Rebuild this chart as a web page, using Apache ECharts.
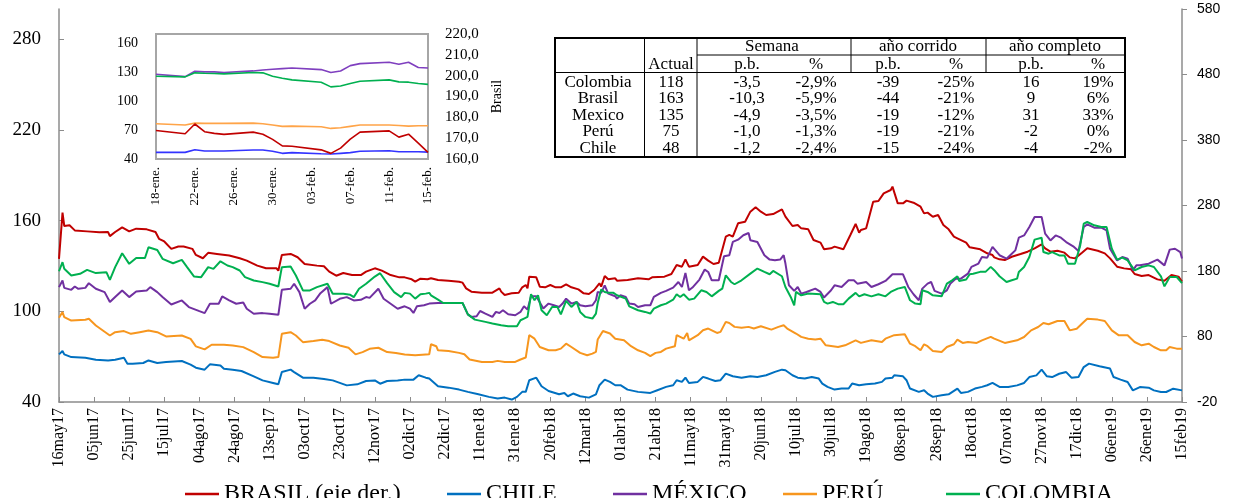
<!DOCTYPE html>
<html><head><meta charset="utf-8">
<script src="https://cdn.jsdelivr.net/npm/echarts/dist/echarts.min.js"></script>
<style>html,body{margin:0;padding:0;background:#fff}#c{width:1236px;height:498px}</style>
</head><body><div id="c"></div>
<script>
// ---------- main chart: x = days since 16may17 ----------
const xTickLabels = ['16may17','05jun17','25jun17','15jul17','04ago17','24ago17','13sep17','03oct17','23oct17','12nov17','02dic17','22dic17','11ene18','31ene18','20feb18','12mar18','01abr18','21abr18','11may18','31may18','20jun18','10jul18','30jul18','19ago18','08sep18','28sep18','18oct18','07nov18','27nov18','17dic18','06ene19','26ene19','15feb19'];
const seriesNames = ['BRASIL (eje der.)','CHILE','MÉXICO','PERÚ','COLOMBIA'];

const brasil = [[0,198.5],[2,269.2],[3,248.7],[6,249.7],[9,242.0],[16,240.5],[23,239.0],[28,239.5],[29,233.3],[32,239.5],[36,246.7],[40,240.5],[44,244.6],[50,243.6],[51,245.6],[55,239.5],[57,229.2],[60,225.1],[64,213.8],[68,217.4],[71,217.4],[76,213.8],[78,204.6],[82,199.5],[85,207.7],[90,206.1],[97,203.6],[103,199.5],[107,195.9],[113,188.2],[118,184.1],[124,184.1],[125,180.5],[127,204.6],[132,206.1],[136,201.0],[140,190.8],[147,188.2],[151,187.2],[154,179.0],[158,172.8],[162,176.9],[167,173.8],[172,173.8],[175,179.0],[180,184.1],[184,180.5],[189,173.8],[194,170.3],
[197,170.3],[201,167.3],[203,163.7],[206,168.3],[210,167.3],[212,168.8],[216,166.3],[222,165.2],[228,163.7],[230,162.2],[232,153.5],[235,148.5],[241,146.9],[247,146.9],[251,153.5],[252,148.5],[254,143.4],[258,145.9],[262,146.9],[264,155.1],[266,158.6],[267,153.5],[268,171.4],[272,170.3],[274,156.1],[277,155.1],[280,158.6],[283,155.1],[286,155.1],[289,159.6],[292,155.1],[296,152.0],[299,145.9],[302,144.9],[305,151.0],[308,161.2],[309,156.1],[311,172.4],
[313,167.3],[317,168.8],[318,165.2],[324,166.3],[330,168.8],[336,167.3],[338,170.3],[345,171.4],[349,175.4],[352,189.2],[355,186.6],[357,197.8],[359,186.6],[364,189.2],[367,201.9],[370,195.8],[373,190.7],[376,192.7],[380,232.4],[382,235.0],[384,232.4],[387,252.8],[391,255.3],[394,270.6],[397,277.2],[400,270.6],[403,265.5],[407,267.0],[412,274.1],[414,263.0],[418,248.7],
[421,250.2],[423,245.1],[427,243.6],[430,227.3],[434,223.3],[436,213.1],[440,214.6],[442,217.2],[447,213.1],[451,235.0],[454,251.8],[456,238.5],[457,242.6],[460,245.1],[464,285.9],[467,286.9],[470,298.6],[474,303.7],[475,308.8],[478,283.3],[481,283.3],[483,287.4],[487,284.3],[491,278.2],[493,268.0],[495,269.1],[498,262.9],[501,265.5],[504,250.2],[507,243.6],[510,232.4],[512,229.9],[513,227.3],[517,223.3],[519,216.1],[522,214.6],[525,213.1],[529,207.0],[532,204.4],[533,200.9],[536,197.8],
[539,196.8],[543,201.8],[548,205.9],[552,209.5],[556,214.6],[560,220.7],[562,214.6],[565,209.5],[569,211.0],[573,208.0],[576,200.8],[579,199.3],[583,208.0],[586,214.6],[592,211.0],[596,206.9],[599,199.3],[603,186.6],[607,184.0],[611,182.5],[613,175.4],[617,172.3],[621,173.8],[626,167.2],[630,165.2],[634,173.8],[638,171.3],[640,163.7]];

const chile = [[0,71.5],[2,73.7],[3,71.5],[7,69.7],[15,69.3],[21,68.0],[28,67.5],[29,66.4],[32,68.0],[37,69.3],[39,65.3],[42,65.3],[48,65.8],[51,67.5],[56,65.8],[61,66.4],[70,67.1],[75,64.7],[78,62.7],[83,61.4],[86,64.9],[92,64.2],[94,62.0],[99,61.4],[104,60.5],[111,57.0],[116,54.3],[122,52.6],[125,51.7],[127,59.8],[132,61.4],[134,59.8],[139,56.1],[145,56.1],[151,55.2],[156,54.3],[164,51.0],[170,51.7],[175,53.9],[180,54.3],[183,52.1],[187,53.9],[193,54.3],
[197,54.8],[202,54.8],[205,57.7],[209,56.1],[211,55.5],[216,50.4],[222,49.5],[228,48.2],[233,46.7],[239,45.1],[245,43.4],[250,42.3],[254,42.9],[258,41.6],[261,43.4],[264,46.7],[266,46.7],[268,54.4],[272,56.1],[275,50.4],[279,47.3],[285,45.1],[288,46.0],[290,43.8],[293,45.6],[297,43.8],[302,42.9],[306,45.1],[308,51.1],[311,54.8],
[314,53.3],[317,51.1],[320,51.1],[324,48.2],[330,46.7],[337,46.0],[341,47.8],[346,50.0],[350,51.1],[352,54.4],[355,53.3],[357,56.1],[359,52.6],[364,53.3],[367,56.6],[370,55.5],[374,53.9],[377,54.4],[380,58.8],[384,57.0],[389,56.1],[394,57.0],[398,56.6],[403,57.7],[408,59.9],[412,61.4],[414,61.0],[418,57.7],
[421,56.1],[425,55.5],[429,56.6],[433,55.5],[435,52.2],[438,50.0],[442,48.2],[446,48.9],[450,48.9],[452,52.2],[456,51.1],[460,51.7],[465,52.2],[469,53.3],[471,55.5],[475,56.1],[476,57.7],[481,57.0],[483,54.4],[485,48.9],[490,46.7],[493,47.8],[495,45.6],[498,43.4],[503,44.5],[507,45.1],[512,48.9],[514,46.0],[518,46.7],[522,48.9],[526,50.0],[529,51.1],[532,52.6],[536,50.0],
[541,49.9],[546,51.0],[550,52.6],[553,56.5],[557,57.6],[560,61.4],[563,57.0],[566,56.5],[570,58.7],[574,59.8],[577,56.1],[581,56.5],[584,63.1],[587,65.4],[593,63.6],[599,62.1],[601,56.5],[605,54.8],[609,53.2],[612,47.7],[616,49.9],[621,49.5],[624,47.7],[628,46.6],[631,46.6],[635,48.8],[640,47.7]];

const mexico = [[0,116.0],[2,120.4],[3,115.5],[7,114.2],[9,116.4],[11,114.9],[15,115.5],[17,118.6],[21,114.9],[26,112.7],[29,106.1],[32,109.4],[36,113.8],[40,109.4],[44,113.1],[50,113.8],[52,116.0],[56,112.7],[59,109.4],[64,104.5],[70,107.2],[74,102.8],[80,100.1],[83,98.8],[86,105.0],[91,105.0],[93,109.8],[97,107.2],[101,105.0],[105,105.8],[107,101.7],[111,98.4],[116,98.8],[120,98.4],[125,97.7],[127,114.2],[132,114.9],[134,118.2],[137,112.7],[140,101.7],[143,105.0],[146,107.2],[149,112.0],[153,116.0],[155,105.0],[160,108.3],[164,109.4],[168,107.2],[172,107.6],[175,109.4],[177,108.9],[182,114.9],[185,108.3],[189,105.0],[193,101.7],
[197,103.3],[200,101.8],[202,98.9],[204,103.3],[208,104.0],[211,105.1],[216,105.5],[222,105.5],[230,105.5],[233,98.0],[235,96.3],[238,96.7],[240,100.2],[243,98.5],[247,96.3],[249,99.6],[251,98.9],[253,100.7],[256,98.0],[260,97.4],[263,99.6],[265,103.3],[267,101.1],[269,109.9],[272,109.9],[276,101.8],[279,105.1],[282,104.0],[285,102.9],[287,105.1],[289,108.4],[292,105.1],[295,106.2],[297,104.0],[300,103.3],[304,104.0],[306,107.3],[307,112.8],[309,112.2],[311,117.2],
[313,111.7],[317,110.0],[318,108.4],[320,110.6],[323,109.5],[325,105.1],[328,104.7],[330,102.9],[334,104.0],[337,104.0],[339,109.5],[343,112.2],[346,113.5],[350,115.7],[353,119.4],[355,116.1],[357,125.4],[359,113.9],[361,115.7],[365,121.0],[368,127.6],[370,126.0],[372,120.5],[376,120.5],[379,136.4],[382,137.1],[384,145.9],[387,147.4],[390,150.3],[393,151.8],[394,147.0],[398,145.9],[402,137.1],[405,134.2],[408,133.8],[411,134.2],[413,137.1],[414,131.6],[416,117.2],[419,113.5],
[421,116.1],[423,111.7],[426,112.8],[431,115.0],[434,112.8],[436,109.1],[440,113.9],[442,117.2],[446,116.1],[450,120.5],[453,120.5],[455,118.3],[460,119.4],[463,116.1],[467,117.9],[471,120.1],[475,124.5],[476,123.8],[481,124.5],[484,116.1],[487,111.3],[490,107.3],[492,115.0],[495,118.3],[497,119.4],[499,113.5],[503,111.7],[506,113.9],[508,118.3],[511,121.6],[514,121.6],[518,124.9],[520,129.4],[524,131.6],[526,136.0],[529,135.5],[532,142.6],[533,143.0],[536,137.1],
[540,134.8],[543,138.1],[545,140.3],[547,148.7],[550,150.2],[553,155.8],[556,162.4],[560,162.4],[562,151.4],[565,146.9],[568,150.2],[571,148.7],[574,145.8],[578,143.0],[581,139.9],[584,155.8],[586,157.5],[590,155.3],[594,155.3],[597,153.6],[599,141.4],[603,133.7],[606,135.9],[609,134.8],[612,127.1],[614,130.4],[616,130.4],[621,131.5],[626,134.2],[630,130.4],[633,140.8],[636,141.4],[639,139.2],[640,135.0]];

const peru = [[0,95.7],[2,99.5],[3,96.2],[7,93.9],[15,94.4],[17,95.1],[21,90.6],[29,84.0],[32,86.2],[37,86.9],[41,85.1],[46,86.2],[51,87.3],[56,86.2],[61,83.4],[70,84.0],[75,81.8],[78,76.8],[83,74.8],[87,77.9],[94,77.9],[99,77.4],[105,76.3],[111,73.0],[116,69.7],[122,69.3],[125,69.7],[127,85.1],[132,86.2],[135,84.0],[139,79.6],[145,80.3],[150,81.2],[154,80.3],[160,77.4],[165,75.9],[169,71.5],[173,73.0],[177,75.2],[182,75.9],[187,73.0],[192,72.4],
[197,71.4],[203,70.9],[211,71.6],[212,78.2],[215,76.9],[216,74.2],[222,73.8],[228,72.5],[231,71.6],[234,68.1],[241,66.5],[247,66.5],[250,67.2],[254,66.5],[260,66.5],[263,68.1],[266,69.4],[268,84.2],[271,81.9],[274,76.4],[279,74.2],[283,74.2],[286,75.3],[289,78.6],[292,76.4],[297,72.5],[301,70.9],[304,72.0],[306,73.1],[307,81.3],[310,87.0],
[314,85.3],[317,81.9],[322,80.8],[326,76.9],[330,74.2],[334,72.5],[337,70.3],[340,72.5],[343,73.1],[346,75.3],[351,76.9],[352,84.2],[356,81.9],[358,85.7],[359,80.8],[364,84.2],[367,87.5],[370,88.6],[375,85.7],[377,86.4],[380,93.0],[382,92.3],[385,89.7],[389,89.2],[393,89.7],[396,88.6],[400,90.1],[406,87.9],[410,89.7],[413,90.8],[415,88.6],[420,85.3],
[423,83.1],[427,81.9],[431,81.3],[434,81.9],[437,77.5],[444,76.4],[448,77.5],[454,80.8],[457,79.1],[463,80.8],[469,79.7],[471,81.9],[476,84.2],[482,84.8],[485,78.6],[488,76.9],[491,74.2],[493,78.2],[495,76.9],[498,73.8],[503,73.1],[506,76.4],[510,78.2],[512,81.3],[515,79.1],[518,79.7],[523,79.1],[526,80.8],[531,83.1],[533,81.9],[539,79.1],
[540,78.6],[546,80.8],[550,83.0],[554,87.4],[558,89.6],[561,92.3],[564,91.4],[569,93.6],[573,93.6],[576,87.4],[580,88.5],[584,92.9],[586,95.1],[592,94.5],[596,93.6],[600,87.4],[604,84.1],[609,84.1],[613,79.7],[617,77.5],[621,78.6],[624,76.4],[628,74.2],[631,74.2],[633,76.4],[637,75.3],[640,75.3]];

const colombia = [[0,126.5],[2,132.5],[3,128.1],[7,123.7],[12,124.8],[16,127.4],[21,125.3],[27,125.9],[29,120.8],[32,129.2],[36,138.4],[40,131.4],[44,135.3],[49,135.3],[51,142.4],[56,140.6],[59,134.7],[65,131.8],[70,134.0],[73,129.2],[77,123.0],[81,122.6],[85,129.2],[88,128.1],[92,133.1],[96,130.3],[99,129.2],[103,127.0],[106,122.6],[111,120.4],[116,119.3],[120,118.2],[125,116.4],[127,129.2],[132,129.6],[135,123.7],[139,113.8],[143,113.8],[147,116.0],[153,118.2],[156,111.6],[162,111.6],[166,110.9],[168,109.4],[171,114.9],[175,118.2],[180,123.0],[183,125.2],[187,118.6],[191,112.7],[195,109.4],
[197,112.2],[200,111.7],[203,108.4],[206,111.3],[209,111.7],[211,112.2],[212,110.6],[216,107.7],[219,105.5],[222,105.5],[230,105.5],[233,98.0],[237,94.5],[243,93.0],[247,91.9],[252,90.8],[256,90.1],[261,90.1],[263,94.1],[265,95.2],[267,96.3],[269,111.3],[271,107.3],[273,110.6],[275,100.7],[278,97.4],[281,102.9],[284,102.9],[286,98.0],[289,106.9],[292,102.9],[295,106.2],[297,99.6],[300,96.3],[304,95.2],[306,98.5],[307,105.5],[309,114.4],[311,112.8],
[313,112.2],[316,112.2],[318,110.6],[323,108.4],[325,103.3],[330,100.7],[334,99.6],[337,98.5],[339,101.8],[343,104.0],[346,105.1],[350,107.7],[352,111.3],[354,109.5],[356,111.3],[359,107.7],[362,108.4],[366,113.9],[369,112.8],[372,109.9],[376,113.5],[378,115.0],[380,123.8],[383,119.4],[385,117.9],[389,120.5],[394,124.9],[398,128.3],[402,126.1],[405,124.5],[407,126.7],[412,123.2],[414,116.1],[417,109.5],[419,104.0],
[420,112.8],[423,110.6],[427,111.7],[434,111.3],[436,106.2],[438,105.1],[441,106.2],[444,104.7],[447,104.7],[450,108.4],[454,112.2],[456,109.9],[459,111.3],[463,109.9],[467,111.3],[471,109.9],[474,112.8],[478,115.0],[482,116.1],[485,107.3],[488,105.1],[491,104.7],[492,113.9],[495,112.8],[498,110.6],[503,109.9],[506,118.3],[509,120.5],[512,123.2],[513,120.1],[517,121.0],[519,124.5],[521,124.9],[525,126.1],[528,126.1],[531,129.4],[533,127.2],[536,123.2],
[540,119.4],[543,120.5],[546,121.6],[547,126.0],[550,129.3],[553,135.9],[556,147.4],[560,148.7],[561,139.2],[564,138.1],[566,139.2],[570,137.0],[573,137.0],[575,131.5],[579,131.5],[582,143.6],[584,158.0],[586,159.1],[590,156.9],[594,155.8],[597,155.8],[600,141.4],[603,134.2],[606,135.5],[609,133.7],[613,127.1],[617,129.3],[621,130.4],[624,129.3],[628,123.1],[630,116.5],[633,122.7],[637,122.7],[640,118.7]];

// ---------- inset: days since 18-ene ----------
const insetTickLabels = ['18-ene.','22-ene.','26-ene.','30-ene.','03-feb.','07-feb.','11-feb.','15-feb.'];
const insetDays = [0,3,4,5,6,7,10,11,12,13,14,17,18,19,20,21,24,25,26,27,28];
const insetMexico = [128.1,125.7,131.3,130.6,130.6,129.9,131.6,132.6,133.3,134.0,134.7,133.0,129.9,131.6,137.1,139.2,140.6,138.5,140.6,135.1,134.6];
const insetColombia = [126.1,125.4,129.6,129.2,128.9,128.5,129.9,129.6,126.1,124.0,122.3,119.9,115.0,116.0,118.5,120.9,122.3,120.2,119.9,118.5,117.6];
const insetPeru = [76.6,75.3,77.3,77.0,77.0,77.0,77.3,76.6,75.3,73.9,74.2,73.5,71.8,72.5,73.9,75.3,75.3,74.9,74.2,74.6,74.6];
const insetChile = [46.9,46.9,49.7,48.3,48.3,48.3,49.3,49.3,48.0,45.9,46.6,45.5,45.2,45.9,46.6,48.0,48.6,47.6,47.6,47.6,47.2];
const insetBrasil = [173.7,172.1,176.8,173.1,172.3,171.8,172.9,171.9,169.4,166.3,166.1,164.4,162.7,165.2,169.5,172.9,173.5,170.5,171.9,167.6,163.2];

// ---------- table ----------
const tableGroups = ['Semana','año corrido','año completo'];
const tableSubHeaders = ['Actual','p.b.','%','p.b.','%','p.b.','%'];
const tableCountries = ['Colombia','Brasil','Mexico','Perú','Chile'];
const tableActual = ['118','163','135','75','48'];
const semanaPb = ['-3,5','-10,3','-4,9','-1,0','-1,2'];
const semanaPct = ['-2,9%','-5,9%','-3,5%','-1,3%','-2,4%'];
const corridoPb = ['-39','-44','-19','-19','-15'];
const corridoPct = ['-25%','-21%','-12%','-21%','-24%'];
const completoPb = ['16','9','31','-2','-4'];
const completoPct = ['19%','6%','33%','0%','-2%'];

const SERIF = '"Liberation Serif","Times New Roman",serif';
const SANS = '"Liberation Sans",Arial,sans-serif';
const colors = ['#C00000','#0070C0','#7030A0','#F7961E','#00B050'];
const mainData = [brasil, chile, mexico, peru, colombia];

const chart = echarts.init(document.getElementById('c'), null, {renderer:'canvas'});

// table graphic
const colX = [598, 671, 747, 816, 888, 956, 1031, 1098];
const rowY = [82.5, 99, 115.5, 132, 148.5];
const T = 38, B = 157, L = 555, R = 1125;
const g = [];
g.push({type:'rect', shape:{x:L, y:T, width:R-L, height:B-T}, style:{fill:'#fff', stroke:'#000', lineWidth:2}, z:10});
const ln = (x1,y1,x2,y2,w)=>g.push({type:'line', shape:{x1,y1,x2,y2}, style:{stroke:'#000', lineWidth:w||1}, z:11});
ln(644.5,T,644.5,B); ln(697,T,697,B); ln(851,T,851,72); ln(986,T,986,72);
ln(697,55,R,55); ln(L,72.5,R,72.5);
const tx = (text,x,y)=>g.push({type:'text', z:12, style:{text, x, y, font:'17px '+SERIF, fill:'#000', textAlign:'center', textVerticalAlign:'middle', align:'center', verticalAlign:'middle'}});
const groupX = [772, 918, 1055];
tableGroups.forEach((t,i)=>tx(t, groupX[i], 47));
tableSubHeaders.forEach((t,i)=>tx(t, colX[i+1], 64.5));
const cols = [tableCountries, tableActual, semanaPb, semanaPct, corridoPb, corridoPct, completoPb, completoPct];
cols.forEach((col,ci)=>col.forEach((t,ri)=>tx(t, colX[ci], rowY[ri])));

const legendLeft = [180, 442, 608, 778, 941];

const option = {
  animation:false,
  backgroundColor:'#fff',
  grid:[
    {left:59, top:9, right:54, bottom:96, containLabel:false},
    {left:156, top:34, width:272, height:125, show:true, backgroundColor:'#fff', borderColor:'#a6a6a6', borderWidth:2, z:5}
  ],
  legend: seriesNames.map((n,i)=>({
    data:[n], left:legendLeft[i], top:477, icon:'rect', itemWidth:34, itemHeight:2.5, selectedMode:false,
    textStyle:{fontFamily:SERIF, fontSize:24, color:'#000'}
  })),
  xAxis:[
    {type:'value', gridIndex:0, min:0, max:640, interval:20,
     axisLine:{show:true, onZero:false, lineStyle:{color:'#8c8c8c', width:1.5}},
     axisTick:{show:true, inside:true, length:5, lineStyle:{color:'#8c8c8c'}},
     splitLine:{show:false},
     axisLabel:{rotate:90, margin:6, fontFamily:SERIF, fontSize:16, color:'#000',
       formatter:v=>xTickLabels[Math.round(v/20)]||''}},
    {type:'value', gridIndex:1, min:0, max:28, interval:4,
     axisLine:{show:false, onZero:false},
     axisTick:{show:true, inside:true, length:4, lineStyle:{color:'#a6a6a6'}},
     splitLine:{show:false},
     axisLabel:{rotate:90, margin:8, fontFamily:SERIF, fontSize:13, color:'#000',
       formatter:v=>insetTickLabels[Math.round(v/4)]||''}}
  ],
  yAxis:[
    {type:'value', gridIndex:0, position:'left', min:40, max:300, interval:60,
     axisLine:{show:true, onZero:false, lineStyle:{color:'#8c8c8c', width:1.5}},
     axisTick:{show:true, inside:true, length:5, lineStyle:{color:'#8c8c8c'}},
     splitLine:{show:false},
     axisLabel:{margin:18, fontFamily:SERIF, fontSize:19, color:'#000', showMaxLabel:false,
       formatter:v=>v>=300?'':String(v)}},
    {type:'value', gridIndex:0, position:'right', min:-20, max:580, interval:100,
     axisLine:{show:true, onZero:false, lineStyle:{color:'#8c8c8c', width:1.5}},
     axisTick:{show:true, inside:false, length:5, lineStyle:{color:'#8c8c8c'}},
     splitLine:{show:false},
     axisLabel:{margin:15, fontFamily:SANS, fontSize:14, color:'#000'}},
    {type:'value', gridIndex:1, position:'left', min:40, max:170, interval:30,
     axisLine:{show:false}, axisTick:{show:false}, splitLine:{show:false},
     axisLabel:{margin:18, fontFamily:SERIF, fontSize:14, color:'#000', showMaxLabel:false,
       formatter:v=>v>=170?'':String(v)}},
    {type:'value', gridIndex:1, position:'right', min:160, max:220, interval:10,
     name:'Brasil', nameLocation:'middle', nameGap:62, nameRotate:90,
     nameTextStyle:{fontFamily:SERIF, fontSize:14, color:'#000'},
     axisLine:{show:false},
     axisTick:{show:true, inside:true, length:4, lineStyle:{color:'#a6a6a6'}},
     splitLine:{show:false},
     axisLabel:{margin:17, fontFamily:SERIF, fontSize:15, color:'#000',
       formatter:v=>v.toFixed(1).replace('.',',')}}
  ],
  graphic:{elements:g},
  series:[
    ...seriesNames.map((n,i)=>({
      name:n, type:'line', xAxisIndex:0, yAxisIndex:i===0?1:0, data:mainData[i],
      showSymbol:false, symbol:'none', color:colors[i], lineStyle:{width:2, color:colors[i]}, z:3
    })),
    {name:'in-Mex', type:'line', xAxisIndex:1, yAxisIndex:2, data:insetDays.map((d,i)=>[d,insetMexico[i]]), symbol:'none', lineStyle:{width:1.6,color:'#7F3FBF'}, z:6},
    {name:'in-Col', type:'line', xAxisIndex:1, yAxisIndex:2, data:insetDays.map((d,i)=>[d,insetColombia[i]]), symbol:'none', lineStyle:{width:1.6,color:'#00B050'}, z:6},
    {name:'in-Per', type:'line', xAxisIndex:1, yAxisIndex:2, data:insetDays.map((d,i)=>[d,insetPeru[i]]), symbol:'none', lineStyle:{width:1.6,color:'#FFA448'}, z:6},
    {name:'in-Chi', type:'line', xAxisIndex:1, yAxisIndex:2, data:insetDays.map((d,i)=>[d,insetChile[i]]), symbol:'none', lineStyle:{width:1.6,color:'#3333FF'}, z:6},
    {name:'in-Bra', type:'line', xAxisIndex:1, yAxisIndex:3, data:insetDays.map((d,i)=>[d,insetBrasil[i]]), symbol:'none', lineStyle:{width:1.6,color:'#C00000'}, z:6}
  ]
};
chart.setOption(option);
</script>
</body></html>
